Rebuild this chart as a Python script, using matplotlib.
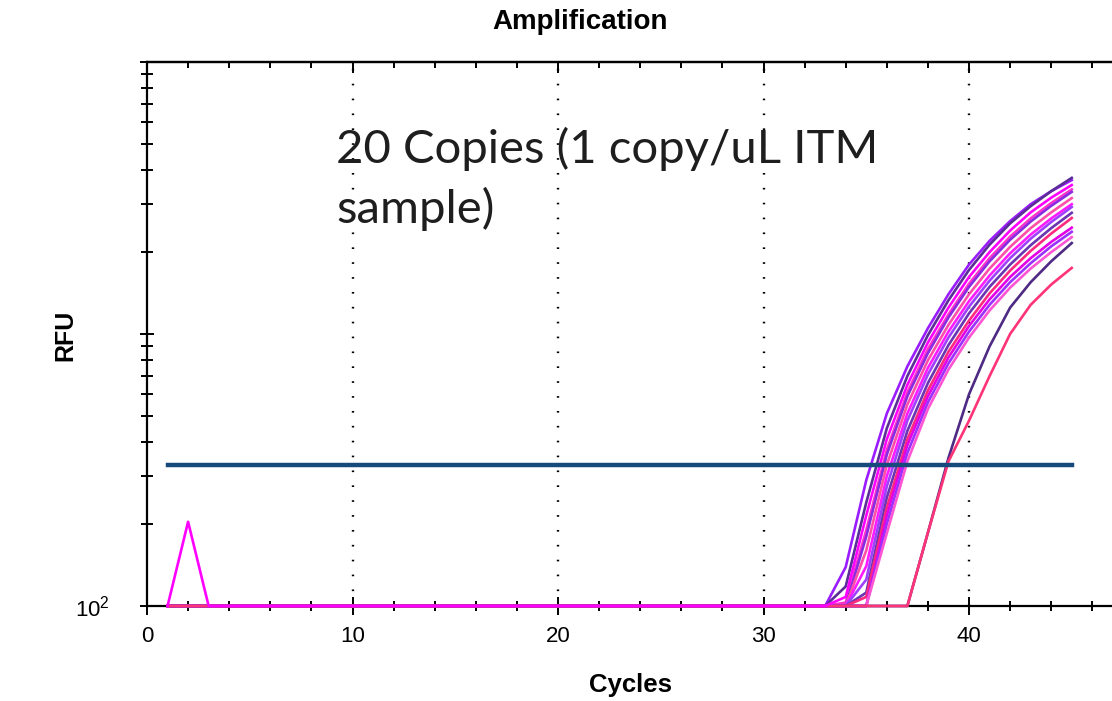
import matplotlib
matplotlib.use("Agg")
import matplotlib.pyplot as plt
import matplotlib.ticker as mticker
import numpy as np

plt.rcParams['mathtext.fontset'] = 'custom'
plt.rcParams['mathtext.rm'] = 'Liberation Sans'

# cycles where every trace still sits on the baseline
early_cycles = list(range(1, 33))
baseline = 100
# one magenta well shows a blip at cycle 2
spike_values = [100, 204, 100]
spike_curve = 2

# RFU per trace for cycles 33..45
rise_cycles = list(range(33, 46))
curves = [
    [100, 139, 290, 510, 760, 1050, 1400, 1800, 2200, 2600, 3000, 3350, 3680],
    [100, 118, 240, 450, 700, 990, 1330, 1720, 2130, 2550, 2950, 3350, 3750],
    [100, 108, 215, 410, 650, 930, 1250, 1620, 2000, 2400, 2800, 3170, 3530],
    [100, 103, 190, 375, 610, 880, 1180, 1530, 1900, 2280, 2660, 3030, 3400],
    [100, 100, 180, 360, 590, 850, 1150, 1490, 1850, 2220, 2590, 2960, 3330],
    [100, 100, 160, 330, 550, 800, 1080, 1400, 1740, 2090, 2450, 2800, 3160],
    [100, 100, 140, 300, 510, 750, 1020, 1320, 1640, 1980, 2320, 2660, 3000],
    [100, 100, 125, 275, 480, 710, 970, 1260, 1570, 1900, 2240, 2580, 2930],
    [100, 100, 112, 250, 440, 660, 910, 1190, 1490, 1800, 2120, 2450, 2790],
    [100, 100, 108, 230, 410, 620, 860, 1120, 1410, 1710, 2020, 2340, 2670],
    [100, 100, 100, 215, 390, 590, 820, 1070, 1340, 1620, 1900, 2180, 2460],
    [100, 100, 100, 200, 365, 560, 780, 1020, 1280, 1550, 1820, 2100, 2375],
    [100, 100, 100, 185, 340, 530, 740, 970, 1220, 1480, 1740, 2000, 2270],
    [100, 100, 100, 100, 100, 186, 350, 600, 900, 1250, 1550, 1850, 2160],
    [100, 100, 100, 100, 100, 186, 340, 480, 700, 1000, 1280, 1520, 1750],
]
colors = ['#9a1cff', '#5b2d96', '#ff00ff', '#ff33cc', '#8a2be2',
          '#ff4fa8', '#ff1aff', '#a040ff', '#6a35b0', '#ff2a80',
          '#e600e6', '#9b30ff', '#ff55d4', '#4e2a84', '#ff3377']

threshold = 330
threshold_span = [1, 45]

x_major = [0, 10, 20, 30, 40]

fig = plt.figure(figsize=(11.12, 7.01), dpi=100)
ax = fig.add_axes([147 / 1112, 95 / 701, 965 / 1112, 544 / 701])

for i, (vals, col) in enumerate(zip(curves, colors)):
    early = [baseline] * len(early_cycles)
    z = 3
    if i == spike_curve:
        early[:len(spike_values)] = spike_values
        z = 3.5
    ax.plot(early_cycles + rise_cycles, early + vals, color=col, lw=1.9,
            clip_on=False, zorder=z)

ax.plot(threshold_span, [threshold, threshold], color='#174a7c', lw=3.2, zorder=4)

ax.set_yscale('log')
ax.set_ylim(100, 10000)
ax.set_xlim(0, 965 / 20.55)

for x in x_major[1:]:
    ax.axvline(x, color='black', lw=1.7, linestyle=(0, (0.7, 5.6)), zorder=1)

ax.spines['right'].set_visible(False)
for side in ['left', 'bottom', 'top']:
    ax.spines[side].set_linewidth(1.6)

ax.set_xticks(x_major)
ax.set_xticklabels([str(v) for v in x_major])
ax.xaxis.set_minor_locator(mticker.MultipleLocator(2))
ax.yaxis.set_major_locator(mticker.FixedLocator([100, 1000, 10000]))
ax.yaxis.set_major_formatter(mticker.FixedFormatter(['10$^{2}$', '', '']))
ax.yaxis.set_minor_locator(mticker.LogLocator(base=10, subs=np.arange(2, 10)))
ax.yaxis.set_minor_formatter(mticker.NullFormatter())

ax.tick_params(axis='x', which='major', direction='inout', length=13, width=1.4,
               labelsize=16, pad=8, top=False)
ax.tick_params(axis='x', which='minor', direction='inout', length=7, width=1.4, top=False)
ax.tick_params(axis='y', which='major', direction='inout', length=10, width=1.4,
               labelsize=16, pad=22)
ax.tick_params(axis='y', which='minor', direction='inout', length=8, width=1.4)
for lab in ax.get_xticklabels() + ax.get_yticklabels():
    lab.set_fontfamily('Liberation Sans')

# top spine ticks point inward only
top = ax.twiny()
top.set_xlim(ax.get_xlim())
top.set_xticks(x_major)
top.xaxis.set_minor_locator(mticker.MultipleLocator(2))
top.tick_params(axis='x', which='major', direction='in', length=8, width=1.4, labeltop=False)
top.tick_params(axis='x', which='minor', direction='in', length=4, width=1.4)
for side in ['right', 'left', 'bottom']:
    top.spines[side].set_visible(False)
top.spines['top'].set_linewidth(1.6)

fig.text(580 / 1112, 1 - 22 / 701, 'Amplification', ha='center', va='center',
         fontsize=20, fontweight='bold', family='Liberation Sans')
fig.text(630 / 1112, 1 - 685 / 701, 'Cycles', ha='center', va='center',
         fontsize=18.5, fontweight='bold', family='Liberation Sans')
fig.text(65 / 1112, 1 - 335 / 701, 'RFU', ha='center', va='center', rotation=90,
         fontsize=18, fontweight='bold', family='Liberation Sans')

fig.text(336 / 1112, 1 - 127 / 701, '20 Copies (1 copy/uL ITM\nsample)', ha='left', va='top',
         fontsize=34, family='Lato', color='#1e1e1e', linespacing=1.42)

fig.savefig('out.png', dpi=100)
